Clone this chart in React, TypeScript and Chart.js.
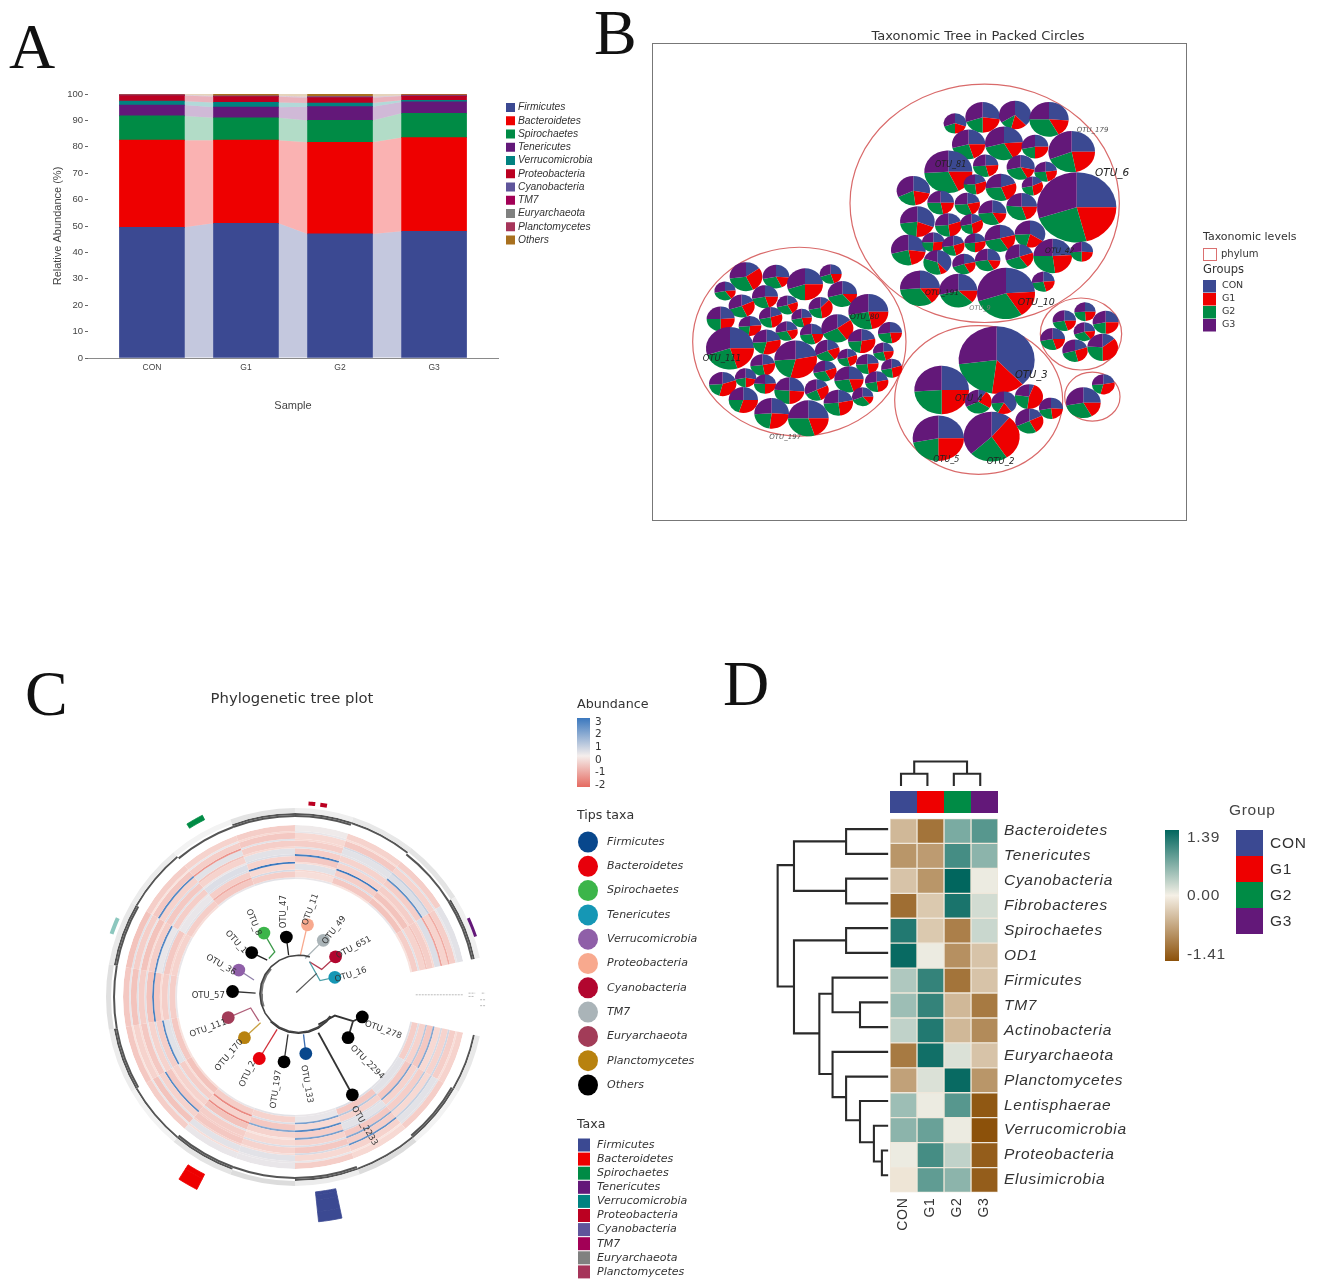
import { useEffect, useRef } from "react";
import { Chart, registerables } from "chart.js";
Chart.register(...registerables);

const W = 1325;
const H = 1286;
const SANS = '"Liberation Sans", Arial, sans-serif';
const DEJA = '"DejaVu Sans", sans-serif';

// ---------- Panel A ----------
const samples = ["CON", "G1", "G2", "G3"];
const phyla = ["Firmicutes", "Bacteroidetes", "Spirochaetes", "Tenericutes", "Verrucomicrobia", "Proteobacteria", "Cyanobacteria", "TM7", "Euryarchaeota", "Planctomycetes", "Others"];
const phylaColors = ["#3B4992", "#EE0000", "#008B45", "#631879", "#008280", "#BB0021", "#5F559B", "#A20056", "#808180", "#A6355A", "#A8701E"];
const firmicutes = [49.5, 51, 47, 48];
const bacteroidetes = [33, 31.5, 34.7, 35.5];
const spirochaetes = [9.2, 8.5, 8.3, 9.2];
const tenericutes = [4.1, 4, 5.2, 4.3];
const verrucomicrobia = [1.5, 1.8, 1.4, 0.6];
const proteobacteria = [2.1, 2.2, 2, 1.6];
const cyanobacteria = [0.1, 0.1, 0.2, 0.1];
const tm7 = [0.05, 0.05, 0.05, 0.05];
const euryarchaeota = [0.05, 0.1, 0.1, 0.1];
const planctomycetes = [0.1, 0.1, 0.1, 0.1];
const others = [0.3, 0.65, 0.95, 0.45];
const stackA = [firmicutes, bacteroidetes, spirochaetes, tenericutes, verrucomicrobia, proteobacteria, cyanobacteria, tm7, euryarchaeota, planctomycetes, others];
const abundanceTicks = [0, 10, 20, 30, 40, 50, 60, 70, 80, 90, 100];

// ---------- Panel B ----------
const groupNames = ["CON", "G1", "G2", "G3"];
const groupColors = ["#3B4992", "#EE0000", "#008B45", "#631879"];
const phylumRings = [
  [914, 370, 404], [358, 785, 320], [896, 960, 252], [1203, 762, 122], [1237, 950, 83],
];
const packedPies = [
  [825, 130, 32, 0.3, 0.2, 0.2, 0.3], [908, 112, 50, 0.27, 0.23, 0.2, 0.3], [1005, 105, 46, 0.38, 0.16, 0.12, 0.34], [1107, 118, 57, 0.26, 0.16, 0.33, 0.25],
  [866, 193, 48, 0.25, 0.2, 0.26, 0.29], [972, 190, 55, 0.24, 0.18, 0.29, 0.29], [1065, 200, 38, 0.25, 0.25, 0.22, 0.28], [1175, 215, 68, 0.25, 0.22, 0.22, 0.31],
  [805, 275, 70, 0.25, 0.18, 0.31, 0.26], [917, 257, 36, 0.24, 0.22, 0.28, 0.26], [1022, 262, 40, 0.28, 0.14, 0.3, 0.28], [1097, 275, 32, 0.23, 0.24, 0.27, 0.26],
  [700, 332, 48, 0.28, 0.2, 0.2, 0.32], [885, 313, 32, 0.2, 0.28, 0.27, 0.25], [963, 322, 44, 0.2, 0.24, 0.3, 0.26], [1057, 318, 30, 0.18, 0.3, 0.24, 0.28],
  [1190, 382, 117, 0.25, 0.21, 0.24, 0.3], [782, 368, 38, 0.25, 0.22, 0.28, 0.25], [862, 372, 36, 0.22, 0.22, 0.3, 0.26], [1025, 380, 44, 0.25, 0.2, 0.31, 0.24],
  [937, 398, 40, 0.26, 0.16, 0.32, 0.26], [712, 425, 50, 0.31, 0.2, 0.22, 0.27], [805, 435, 38, 0.2, 0.28, 0.26, 0.26], [875, 432, 32, 0.18, 0.3, 0.24, 0.28],
  [1050, 462, 44, 0.34, 0.2, 0.2, 0.26], [960, 475, 44, 0.21, 0.2, 0.31, 0.28], [685, 510, 50, 0.27, 0.2, 0.24, 0.29], [760, 487, 32, 0.24, 0.27, 0.24, 0.25],
  [820, 497, 32, 0.2, 0.26, 0.27, 0.27], [885, 488, 30, 0.22, 0.28, 0.24, 0.26], [772, 547, 40, 0.38, 0.08, 0.34, 0.2], [852, 552, 33, 0.22, 0.2, 0.28, 0.3],
  [923, 540, 36, 0.26, 0.16, 0.31, 0.27], [1018, 530, 40, 0.2, 0.2, 0.3, 0.3], [1118, 528, 56, 0.24, 0.24, 0.27, 0.25], [1205, 515, 32, 0.26, 0.24, 0.24, 0.26],
  [1090, 605, 32, 0.24, 0.22, 0.27, 0.27], [720, 625, 58, 0.25, 0.15, 0.34, 0.26], [835, 632, 55, 0.25, 0.12, 0.34, 0.29], [978, 640, 85, 0.24, 0.17, 0.29, 0.3],
  [198, 590, 47, 0.15, 0.28, 0.3, 0.27], [288, 590, 38, 0.26, 0.17, 0.29, 0.28], [375, 613, 52, 0.25, 0.25, 0.2, 0.3], [452, 582, 31, 0.25, 0.2, 0.25, 0.3],
  [135, 633, 30, 0.24, 0.16, 0.32, 0.28], [487, 642, 42, 0.25, 0.14, 0.32, 0.29], [255, 650, 37, 0.25, 0.2, 0.27, 0.28], [185, 678, 37, 0.18, 0.25, 0.27, 0.3],
  [322, 675, 30, 0.2, 0.22, 0.29, 0.29], [422, 683, 34, 0.12, 0.36, 0.24, 0.28], [565, 695, 58, 0.25, 0.22, 0.25, 0.28], [122, 717, 40, 0.24, 0.26, 0.25, 0.25],
  [272, 712, 33, 0.2, 0.28, 0.24, 0.28], [365, 714, 29, 0.24, 0.22, 0.26, 0.28], [210, 738, 32, 0.24, 0.28, 0.22, 0.26], [320, 753, 31, 0.22, 0.2, 0.3, 0.28],
  [395, 762, 33, 0.25, 0.2, 0.28, 0.27], [472, 745, 46, 0.15, 0.25, 0.28, 0.32], [630, 758, 34, 0.25, 0.22, 0.26, 0.27], [150, 805, 70, 0.25, 0.2, 0.25, 0.3],
  [260, 786, 40, 0.22, 0.32, 0.2, 0.26], [545, 783, 39, 0.22, 0.3, 0.22, 0.26], [610, 815, 29, 0.24, 0.22, 0.26, 0.28], [442, 812, 35, 0.2, 0.2, 0.28, 0.32],
  [347, 838, 62, 0.22, 0.32, 0.2, 0.26], [502, 833, 28, 0.2, 0.26, 0.26, 0.28], [248, 855, 35, 0.22, 0.25, 0.26, 0.27], [562, 852, 32, 0.24, 0.24, 0.26, 0.26],
  [635, 865, 30, 0.2, 0.28, 0.24, 0.28], [435, 873, 33, 0.2, 0.22, 0.3, 0.28], [197, 893, 30, 0.28, 0.22, 0.22, 0.28], [128, 912, 39, 0.2, 0.34, 0.2, 0.26],
  [255, 912, 31, 0.24, 0.26, 0.26, 0.24], [507, 898, 42, 0.25, 0.2, 0.28, 0.27], [590, 905, 33, 0.22, 0.26, 0.24, 0.28], [328, 932, 43, 0.26, 0.24, 0.26, 0.24],
  [410, 930, 34, 0.18, 0.26, 0.24, 0.32], [190, 960, 42, 0.25, 0.3, 0.2, 0.25], [275, 1000, 50, 0.26, 0.26, 0.22, 0.26], [385, 1015, 59, 0.25, 0.2, 0.3, 0.25],
  [475, 968, 42, 0.22, 0.26, 0.26, 0.26], [548, 950, 30, 0.25, 0.14, 0.3, 0.31],
  [950, 840, 112, 0.38, 0.14, 0.21, 0.27], [785, 930, 80, 0.25, 0.25, 0.24, 0.26], [775, 1075, 75, 0.25, 0.25, 0.22, 0.28], [935, 1070, 82, 0.11, 0.3, 0.22, 0.37],
  [895, 965, 38, 0.1, 0.24, 0.34, 0.32], [972, 968, 36, 0.4, 0.18, 0.16, 0.26], [1047, 950, 40, 0.06, 0.46, 0.25, 0.23], [1113, 985, 34, 0.26, 0.22, 0.24, 0.28],
  [1048, 1023, 40, 0.18, 0.24, 0.26, 0.32],
  [1153, 722, 33, 0.25, 0.2, 0.27, 0.28], [1215, 695, 30, 0.25, 0.24, 0.25, 0.26], [1277, 727, 37, 0.25, 0.25, 0.22, 0.28], [1118, 777, 35, 0.25, 0.2, 0.27, 0.28],
  [1213, 755, 30, 0.24, 0.16, 0.3, 0.3], [1185, 812, 36, 0.2, 0.26, 0.25, 0.29], [1268, 802, 44, 0.14, 0.36, 0.26, 0.24],
  [1210, 968, 50, 0.25, 0.17, 0.3, 0.28], [1270, 913, 32, 0.22, 0.32, 0.2, 0.26],
];
const packLabels: [string, number, number, number, string][] = [
  ["OTU_6", 1245, 280, 10.5, "#222"], ["OTU_179", 1190, 150, 7, "#555"], ["OTU_10", 1013, 668, 9.5, "#222"], ["OTU_3", 1005, 885, 10, "#222"],
  ["OTU_4", 825, 955, 8.5, "#222"], ["OTU_5", 760, 1140, 8, "#222"], ["OTU_2", 920, 1145, 8.5, "#222"], ["OTU_111", 68, 835, 8.5, "#222"],
  ["OTU_197", 268, 1072, 7, "#555"], ["OTU_80", 510, 712, 7.5, "#222"], ["OTU_42", 1095, 512, 7.5, "#222"], ["OTU_191", 735, 640, 7.5, "#222"],
  ["OTU_81", 765, 255, 8, "#222"], ["OTU_9", 868, 685, 6.5, "#777"],
];

// ---------- Panel C ----------
const sectorSpans = [18, 20, 20, 20, 20, 20, 20, 20, 20, 20, 20, 20, 20, 18, 20, 20, 20];
const heatRings = [
  [-0.5, -0.6, -0.4, -0.6, 0.2, 0.2, -0.6, -0.7, -0.7, -0.8, -0.6, -0.5, -0.6, 0.1, -0.5, -0.6, 0.3],
  [-0.3, 0.3, -0.2, 0.2, 0.2, -0.3, 0.2, -0.2, 0.2, 0.3, -0.2, 0.2, -0.4, 0.2, -0.3, 0.3, 0.2],
  [-0.6, 0.3, -0.5, -0.4, 0.3, 0.3, -0.8, -0.5, -0.8, -0.6, -0.7, -0.6, -0.7, -0.4, -0.7, -0.5, -0.6],
  [0.6, 0.8, 2.4, 0.5, -0.3, -0.5, 0.3, -0.3, 0.3, 0.2, 2.6, -1.6, 0.3, -0.4, 0.5, 0.8, -1.2],
  [-0.5, -0.4, -0.6, -0.7, -0.5, -0.7, -0.5, -0.7, -0.6, -0.8, -0.5, 0.3, -0.6, -0.6, 0.3, 0.4, -0.5],
  [0.5, 1, 1.8, 0.4, 0.4, -0.6, 2.6, 0.2, 0.3, -0.3, 0.4, -0.8, -0.4, 0.3, 0.3, 2.4, -1.4],
  [-0.4, -0.6, -0.7, -0.5, -0.4, -0.6, -0.7, -0.5, -0.8, -0.6, -0.7, -0.5, 0.3, -0.6, -0.5, -0.6, 0.4],
  [1.8, 0.4, 0.5, 2, -0.2, 0.3, -0.3, 0.4, 2.8, 2.6, 0.3, 0.2, 0.4, 2.8, 0.4, 0.3, -0.4],
  [-0.7, -0.5, 0.3, -0.6, -0.5, -0.8, -0.5, -0.6, -0.7, 0.2, -0.6, 0.4, -0.5, -0.7, -0.5, -0.6, -0.6],
  [1, 2, 0.4, 2.6, 1.8, -1.8, 0.3, 2.6, -0.3, 0.4, 0.2, 0.4, 3, -0.3, 3, -0.4, -0.8],
  [-0.5, -0.7, -0.5, -0.4, -0.7, -0.5, -0.6, 0.3, -0.6, -0.7, 0.2, -0.6, -0.4, 0.3, -0.6, -0.8, -0.5],
  [0.4, 0.3, 1, 2, 0.4, -1.8, -0.3, 0.3, 0.3, -0.4, 0.3, -1.2, 0.5, -0.4, 0.4, -0.3, 0.3],
  [-0.6, 0.3, -0.7, 0.2, -0.5, -0.6, -0.8, -0.7, -0.6, -0.5, -0.6, -0.7, -0.6, -0.3, -0.7, -0.8, -0.6],
  [0.3, 0.3, 0.4, 0.2, 0.3, 0.2, -0.3, -0.2, 0.2, 0.2, -0.3, 0.2, 0.3, 0.2, -0.2, 0.2, -0.2],
];
const darkRingOuter = [1, 1, 1, 1, 0, 1, 1, 1, 0, 1, 1, 0, 1, 1, 1, 0, 1];
const darkRingInner = [0, 1, 0, 1, 1, 1, 0, 1, 1, 1, 0, 1, 1, 1, 0, 1, 1];
const tipShades = [0.6, 0.3, 0.9, 0.5, 0.9, 0.7, 0.3, 0.5, 0.8, 0.6, 0.5, 0.3, 0.7, 0.4, 0.6, 0.7, 0.4];
const taxaMarks: [number, number, string, number][] = [
  [168, 6, "#3B4992", 0], [207, 5.5, "#EE0000", 1], [328, 5, "#008B45", 2], [425.5, 6, "#631879", 5], [289, 5, "#8CC7BE", 4], [364, 2, "#BB0021", 4], [367.5, 2, "#BB0021", 4],
];
const tipsTaxa = ["Firmicutes", "Bacteroidetes", "Spirochaetes", "Tenericutes", "Verrucomicrobia", "Proteobacteria", "Cyanobacteria", "TM7", "Euryarchaeota", "Planctomycetes", "Others"];
const tipsColors = ["#08478C", "#E8000B", "#3CB54A", "#1597B5", "#8F5FA8", "#F8A98E", "#B2062F", "#AAB4B8", "#A23C58", "#B8820F", "#000000"];
const taxaNames = ["Firmicutes", "Bacteroidetes", "Spirochaetes", "Tenericutes", "Verrucomicrobia", "Proteobacteria", "Cyanobacteria", "TM7", "Euryarchaeota", "Planctomycetes"];
const abundanceScale = ["3", "2", "1", "0", "-1", "-2"];
const hubAngles = [17, 8, 0, -15, -30, -45, -60, -75, -90, -105, -120, -135, -150, -165, -180, -195, -210, -225, -235];
const hubDarkAngles = [-48, -60, -75, -90, -100, -110];
const hubLowerAngles = [-135, -150, -165, -180, -195, -210, -225, -235];
const treeBranches: [string, number[][]][] = [
  ["#4C9FA8", [[618, 555], [650, 612], [695, 602]]],
  ["#B2384F", [[618, 555], [655, 578], [697, 540]]],
  ["#AAB4B8", [[605, 545], [660, 490]]],
  ["#F8A98E", [[590, 537], [612, 443]]],
  ["#222222", [[555, 535], [548, 480]]],
  ["#3C9A4A", [[495, 545], [513, 525], [480, 468]]],
  ["#222222", [[490, 550], [443, 527]]],
  ["#8F7FA8", [[450, 610], [404, 580]]],
  ["#333333", [[455, 650], [385, 645]]],
  ["#B0607A", [[465, 735], [440, 695], [372, 724]]],
  ["#C8A040", [[470, 740], [421, 785]]],
  ["#D0303A", [[520, 760], [466, 848]]],
  ["#333333", [[553, 775], [541, 858]]],
  ["#3B6CB0", [[600, 775], [607, 833]]],
  ["#333333", [[645, 770], [748, 958]]],
  ["#333333", [[645, 745], [695, 718], [750, 735], [735, 785]]],
  ["#333333", [[750, 735], [778, 722]]],
];
const gapScaleLines = [
  [[940, 655], [1085, 655]], [[1100, 650], [1120, 650]], [[1100, 660], [1115, 660]], [[1140, 650], [1150, 650]], [[1135, 670], [1150, 670]], [[1135, 688], [1150, 688]],
];
const tipLabels: [string, number, number, number][] = [
  ["OTU_16", 705, 600, -18], ["OTU_651", 710, 530, -28], ["OTU_49", 672, 490, -52], ["OTU_11", 615, 435, -70], ["OTU_47", 552, 445, -90],
  ["OTU_8", 445, 388, 68], ["OTU_1", 380, 455, 48], ["OTU_36", 320, 530, 30], ["OTU_57", 275, 648, 0], ["OTU_111", 270, 765, -20],
  ["OTU_170", 350, 870, -50], ["OTU_2", 425, 920, -65], ["OTU_197", 520, 985, -82], ["OTU_133", 610, 855, 80], ["OTU_2233", 760, 980, 60],
  ["OTU_2294", 755, 800, 45], ["OTU_278", 795, 730, 20],
];

// ---------- Panel D ----------
const heatTaxa = ["Bacteroidetes", "Tenericutes", "Cyanobacteria", "Fibrobacteres", "Spirochaetes", "OD1", "Firmicutes", "TM7", "Actinobacteria", "Euryarchaeota", "Planctomycetes", "Lentisphaerae", "Verrucomicrobia", "Proteobacteria", "Elusimicrobia"];
const zCON = [-0.5, -0.8, -0.4, -1.15, 1.2, 1.35, 0.4, 0.5, 0.3, -1.05, -0.7, 0.5, 0.6, 0.05, -0.1];
const zG1 = [-1.1, -0.75, -0.8, -0.35, -0.35, 0.05, 1.1, 1.1, 1.2, 1.3, 0.15, 0.05, 0.8, 1, 0.85];
const zG2 = [0.7, 1, 1.39, 1.25, -1, -0.85, -1.1, -0.5, -0.5, 0.15, 1.35, 0.9, 0.05, 0.3, 0.6];
const zG3 = [0.9, 0.6, 0.05, 0.2, 0.25, -0.4, -0.4, -1.05, -0.9, -0.4, -0.8, -1.35, -1.41, -1.3, -1.3];
const zGroups = [zCON, zG1, zG2, zG3];
const leftTree = [
  [[343, 213], [222, 213], [222, 288], [343, 288]], [[343, 363], [222, 363], [222, 438], [343, 438]], [[222, 250], [72, 250], [72, 400], [222, 400]],
  [[343, 513], [222, 513], [222, 588], [343, 588]], [[343, 738], [262, 738], [262, 813], [343, 813]], [[343, 663], [183, 663], [183, 768], [262, 768]],
  [[343, 1187], [325, 1187], [325, 1262], [343, 1262]], [[343, 1112], [302, 1112], [302, 1220], [325, 1220]], [[343, 1037], [262, 1037], [262, 1162], [302, 1162]],
  [[343, 963], [222, 963], [222, 1095], [262, 1095]], [[343, 888], [183, 888], [183, 1025], [222, 1025]], [[183, 712], [145, 712], [145, 955], [183, 955]],
  [[222, 550], [72, 550], [72, 832], [145, 832]], [[72, 322], [25, 322], [25, 690], [72, 690]],
];
const topTree = [
  [[380, 82], [380, 45], [456, 45], [456, 82]], [[532, 82], [532, 45], [608, 45], [608, 82]], [[418, 45], [418, 8], [570, 8], [570, 45]],
];

// ---------- helpers ----------
function txt(ctx: any, s: string, x: number, y: number, font: string, color = "#333", align = "left", rot = 0) {
  ctx.save();
  ctx.translate(x, y);
  if (rot) ctx.rotate((rot * Math.PI) / 180);
  ctx.font = font;
  ctx.fillStyle = color;
  ctx.textAlign = align;
  ctx.textBaseline = "middle";
  ctx.fillText(s, 0, 0);
  ctx.restore();
}
function hex(c: string) {
  return [parseInt(c.slice(1, 3), 16), parseInt(c.slice(3, 5), 16), parseInt(c.slice(5, 7), 16)];
}
function mix(a: string, b: string, t: number) {
  const A = hex(a), B = hex(b);
  return `rgb(${A.map((v, i) => Math.round(v + (B[i] - v) * t)).join(",")})`;
}
const abundanceColor = (v: number) => (v >= 0 ? mix("#F5EEEC", "#3B78BE", v / 3) : mix("#FAEFEA", "#E56A60", -v / 2.4));
const brbg = (z: number) => (z >= 0 ? mix("#F5F0E6", "#01665E", z / 1.39) : mix("#F5F0E6", "#8C510A", -z / 1.41));
function markRing(rows: number[]) {
  const marks = taxaMarks.filter((m) => rows.includes(m[3])).sort((a, b) => a[0] - b[0]);
  const data: number[] = [];
  const colors: string[] = [];
  let at = 102;
  marks.forEach((m) => {
    data.push(m[0] - at, m[1]);
    colors.push("rgba(0,0,0,0)", m[2]);
    at = m[0] + m[1];
  });
  data.push(438 - at);
  colors.push("rgba(0,0,0,0)");
  return { data, colors };
}
const cx = (z: number) => 100 + z / 3;
const cy = (z: number) => 780 + z / 3;
const dx = (z: number) => 770 + z / 2.85;
const dy = (z: number) => 760 + z / 3;
const hubPoint = (a: number, r: number) => ({ x: cx(585 + r * Math.sin((a * Math.PI) / 180)), y: cy(652 - r * Math.cos((a * Math.PI) / 180)) });

const base: any = { responsive: false, animation: false, devicePixelRatio: 1, plugins: { legend: { display: false }, tooltip: { enabled: false } } };

export default function App() {
  const a = useRef<HTMLCanvasElement>(null);
  const b = useRef<HTMLCanvasElement>(null);
  const c = useRef<HTMLCanvasElement>(null);
  const d = useRef<HTMLCanvasElement>(null);
  const o = useRef<HTMLCanvasElement>(null);

  useEffect(() => {
    const charts: Chart[] = [];

    // Panel A
    charts.push(
      new Chart(a.current as any, {
        type: "bar",
        data: {
          datasets: stackA.map((vals, k) => ({
            label: phyla[k],
            data: vals.map((y, i) => ({ x: i, y })),
            backgroundColor: phylaColors[k],
            barThickness: 65,
            borderWidth: 0,
          })),
        },
        options: {
          ...base,
          layout: { padding: { left: 51, right: W - 498, top: 94, bottom: H - 358 - 55 } },
          scales: {
            x: {
              type: "linear",
              stacked: true,
              offset: false,
              min: -0.68,
              max: 3.68,
              afterBuildTicks: (s: any) => { s.ticks = samples.map((_, i) => ({ value: i })); },
              afterFit: (s: any) => { s.height = 55; },
              ticks: { callback: (v: any) => samples[v], font: { size: 8.5, family: SANS }, color: "#444", padding: 5, autoSkip: false, maxRotation: 0 },
              grid: { drawOnChartArea: false, drawTicks: false, offset: false },
              border: { color: "#8a8a8a", width: 1 },
              title: { display: true, text: "Sample", font: { size: 11, family: SANS }, color: "#444", padding: { top: 0, bottom: 0 } },
            },
            y: {
              stacked: true,
              min: 0,
              max: 100,
              afterBuildTicks: (s: any) => { s.ticks = abundanceTicks.map((value) => ({ value })); },
              afterFit: (s: any) => { s.width = 37; },
              ticks: { font: { size: 9.5, family: SANS }, color: "#444", padding: 2 },
              grid: { drawOnChartArea: false, tickLength: 3, color: "#666" },
              border: { display: false },
              title: { display: true, text: "Relative Abundance (%)", font: { size: 11, family: SANS }, color: "#444", padding: 0 },
            },
          },
        } as any,
        plugins: [
          {
            id: "bandsA",
            beforeDatasetsDraw(chart: any) {
              const ctx = chart.ctx;
              chart.data.datasets.forEach((ds: any, k: number) => {
                const els = chart.getDatasetMeta(k).data;
                for (let i = 0; i < els.length - 1; i++) {
                  const p = els[i], q = els[i + 1];
                  const x0 = p.x + p.width / 2, x1 = q.x - q.width / 2;
                  ctx.save();
                  ctx.globalAlpha = 0.3;
                  ctx.fillStyle = ds.backgroundColor;
                  ctx.beginPath();
                  ctx.moveTo(x0, p.y);
                  ctx.lineTo(x1, q.y);
                  ctx.lineTo(x1, q.base);
                  ctx.lineTo(x0, p.base);
                  ctx.closePath();
                  ctx.fill();
                  ctx.restore();
                }
              });
            },
            afterDraw(chart: any) {
              const ctx = chart.ctx;
              phyla.forEach((name, i) => {
                const y = 107.5 + i * 13.25;
                ctx.fillStyle = phylaColors[i];
                ctx.fillRect(506, y - 4.5, 9, 9);
                txt(ctx, name, 518, y, `italic 10.3px ${SANS}`, "#333");
              });
            },
          },
        ],
      })
    );

    // Panel B
    charts.push(
      new Chart(b.current as any, {
        type: "bubble",
        data: {
          datasets: [
            { label: "phylum", data: phylumRings.map(([x, y, r]) => ({ x, y, r: r / 3 })), backgroundColor: "rgba(0,0,0,0)", borderWidth: 0 },
            { label: "OTU", data: packedPies.map(([x, y, r]) => ({ x, y, r: r / 3 + 0.7 })), backgroundColor: "rgba(0,0,0,0)", borderWidth: 0 },
          ],
        },
        options: {
          ...base,
          // the bubble controller reserves its largest radius at the top, so the y scale starts lower down
          layout: { padding: { left: 652, right: W - 1186, top: 136, bottom: H - 520 } },
          scales: {
            x: { display: false, min: -84, max: 1518 },
            y: { display: false, min: 168, max: 1320, reverse: true },
          },
        } as any,
        plugins: [
          {
            id: "packB",
            afterDatasetsDraw(chart: any) {
              const ctx = chart.ctx;
              const sx = chart.scales.x, sy = chart.scales.y;
              const { left, width } = chart.chartArea;
              const boxTop = sy.getPixelForValue(-111);
              const boxBottom = sy.getPixelForValue(1320);
              ctx.strokeStyle = "#777";
              ctx.lineWidth = 1;
              ctx.strokeRect(left + 0.5, boxTop + 0.5, width, boxBottom - boxTop);
              const squash = 1 / 1.13;
              chart.getDatasetMeta(0).data.forEach((el: any) => {
                ctx.beginPath();
                ctx.ellipse(el.x, el.y, el.options.radius, el.options.radius * squash, 0, 0, Math.PI * 2);
                ctx.strokeStyle = "#D96A6A";
                ctx.lineWidth = 1.2;
                ctx.stroke();
              });
              chart.getDatasetMeta(1).data.forEach((el: any, i: number) => {
                const row = packedPies[i];
                let at = -Math.PI / 2;
                for (let g = 0; g < 4; g++) {
                  const sweep = row[3 + g] * Math.PI * 2;
                  ctx.beginPath();
                  ctx.moveTo(el.x, el.y);
                  ctx.ellipse(el.x, el.y, el.options.radius, el.options.radius * squash, 0, at, at + sweep);
                  ctx.closePath();
                  ctx.fillStyle = groupColors[g];
                  ctx.fill();
                  at += sweep;
                }
              });
              packLabels.forEach(([s, x, y, size, color]) => {
                txt(ctx, s, sx.getPixelForValue(x), sy.getPixelForValue(y), `italic ${size}px ${DEJA}`, color);
              });
              ctx.lineWidth = 1;
              txt(ctx, "Taxonomic Tree in Packed Circles", 978, 37, `13px ${DEJA}`, "#333", "center");
              txt(ctx, "Taxonomic levels", 1203, 237, `11px ${DEJA}`, "#333");
              ctx.strokeStyle = "#DB7070";
              ctx.strokeRect(1203.5, 248.5, 13, 12);
              txt(ctx, "phylum", 1221, 254, `10px ${DEJA}`, "#333");
              txt(ctx, "Groups", 1203, 270, `11.5px ${DEJA}`, "#333");
              groupNames.forEach((g, i) => {
                const y = 286 + i * 13;
                ctx.fillStyle = groupColors[i];
                ctx.fillRect(1203, y - 6, 13, 12.5);
                txt(ctx, g, 1222, y, `9.5px ${DEJA}`, "#333");
              });
            },
          },
        ],
      })
    );

    // Panel C rings
    const sectorColors = (vals: number[], on: string) => vals.map((v) => (v ? on : "rgba(0,0,0,0)"));
    const m1 = markRing([0]), m2 = markRing([0, 1]), m3 = markRing([0, 1, 2]), m4 = markRing([0]), t1 = markRing([4]), t2 = markRing([5]);
    const markSet = (m: any, weight: number) => ({ data: m.data, backgroundColor: m.colors, borderColor: m.colors, borderWidth: 0.8, weight });
    const ringSet: any[] = [
      markSet(m1, 10),
      markSet(m2, 12),
      markSet(m3, 5),
      markSet(m4, 3),
      { data: t1.data, backgroundColor: t1.colors, weight: 4, borderWidth: 0 },
      { data: t2.data, backgroundColor: t2.colors, weight: 3, borderWidth: 0 },
      { data: sectorSpans, backgroundColor: tipShades.map((v) => mix("#FFFFFF", "#D8D8D8", v)), weight: 5, borderWidth: 0 },
      { data: sectorSpans, backgroundColor: sectorColors(darkRingOuter, "#555555"), weight: 2, borderWidth: 0 },
      { data: sectorSpans, backgroundColor: sectorColors(darkRingInner, "#555555"), weight: 2, borderWidth: 0 },
      { data: sectorSpans, backgroundColor: "#FFFFFF", weight: 8, borderWidth: 0 },
      ...heatRings.map((vals, i) => ({ data: sectorSpans, backgroundColor: vals.map(abundanceColor), weight: i % 2 ? 1.8 : 5.9, borderWidth: 0 })),
    ];
    charts.push(
      new Chart(c.current as any, {
        type: "doughnut",
        data: { datasets: ringSet },
        options: {
          ...base,
          rotation: 102,
          circumference: 336,
          radius: 226,
          cutout: "52.2%",
          layout: { padding: { left: 57.5, right: W - 527.5, top: 762, bottom: H - 762 - 470 } },
        } as any,
      })
    );

    // Panel D heatmap
    charts.push(
      new Chart(d.current as any, {
        type: "bar",
        data: {
          labels: heatTaxa,
          datasets: groupNames.map((g, i) => ({
            label: g,
            data: heatTaxa.map(() => 1),
            backgroundColor: zGroups[i].map(brbg),
            borderColor: "#EFE7DA",
            borderWidth: 1,
            borderSkipped: false,
            barPercentage: 1,
            categoryPercentage: 1,
          })),
        },
        options: {
          ...base,
          indexAxis: "y",
          layout: { padding: { left: 890, right: W - 998 - 200, top: 818.5, bottom: H - 1192.5 - 50 } },
          scales: {
            x: {
              type: "linear",
              stacked: true,
              min: 0,
              max: 4,
              afterBuildTicks: (s: any) => { s.ticks = groupNames.map((_, i) => ({ value: i + 0.5 })); },
              afterFit: (s: any) => { s.height = 50; },
              ticks: { callback: (v: any) => groupNames[Math.floor(v)], font: { size: 14, family: SANS }, color: "#333", minRotation: 90, maxRotation: 90, padding: 5, autoSkip: false },
              grid: { display: false, drawTicks: false },
              border: { display: false },
            },
            y: {
              position: "right",
              stacked: true,
              afterFit: (s: any) => { s.width = 200; },
              ticks: { font: { size: 15.5, style: "italic", family: SANS }, color: "#333", padding: 6, autoSkip: false },
              grid: { display: false, drawTicks: false },
              border: { display: false },
            },
          },
        } as any,
        plugins: [
          {
            id: "annotD",
            beforeDraw(chart: any) {
              chart.ctx.letterSpacing = "0.7px";
            },
            afterDraw(chart: any) {
              const ctx = chart.ctx;
              const sx = chart.scales.x;
              groupNames.forEach((_, i) => {
                const x0 = sx.getPixelForValue(i), x1 = sx.getPixelForValue(i + 1);
                ctx.fillStyle = groupColors[i];
                ctx.fillRect(x0, 791, x1 - x0, 22);
              });
              const g = ctx.createLinearGradient(0, 830, 0, 961);
              g.addColorStop(0, "#01665E");
              g.addColorStop(0.5, "#F5F0E6");
              g.addColorStop(1, "#8C510A");
              ctx.fillStyle = g;
              ctx.fillRect(1165, 830, 14, 131);
              const f = `15.5px ${SANS}`;
              txt(ctx, "1.39", 1187, 838, f, "#444");
              txt(ctx, "0.00", 1187, 896, f, "#444");
              txt(ctx, "-1.41", 1187, 955, f, "#444");
              txt(ctx, "Group", 1229, 811, f, "#444");
              groupNames.forEach((name, i) => {
                const y = 830 + i * 26;
                ctx.fillStyle = groupColors[i];
                ctx.fillRect(1236, y, 27, 26);
                txt(ctx, name, 1270, y + 13.5, f, "#333");
              });
            },
          },
        ],
      })
    );

    // Overlay: tree tips, dendrograms, panel letters, legends of panel C
    const lineSets: any[] = [];
    lineSets.push({ data: hubAngles.map((an) => hubPoint(an, 117)), borderColor: "#444", borderWidth: 1.6, pointRadius: 0, showLine: true });
    lineSets.push({ data: hubDarkAngles.map((an) => hubPoint(an, 113)), borderColor: "#777", borderWidth: 2.4, pointRadius: 0, showLine: true });
    lineSets.push({ data: hubLowerAngles.map((an) => hubPoint(an, 120)), borderColor: "#333", borderWidth: 1.4, pointRadius: 0, showLine: true });
    lineSets.push({ data: [{ x: cx(578), y: cy(648) }, { x: cx(640), y: cy(590) }], borderColor: "#555", borderWidth: 1.2, pointRadius: 0, showLine: true });
    gapScaleLines.forEach((pts) => lineSets.push({ data: pts.map(([x, y]) => ({ x: cx(x), y: cy(y) })), borderColor: "#bbb", borderWidth: 1, borderDash: [2, 1], pointRadius: 0, showLine: true }));
    treeBranches.forEach(([color, pts], bi) => {
      const tip = tipsColors[[3, 6, 7, 5, 10, 2, 10, 4, 10, 8, 9, 1, 10, 0, 10, 10, 10][bi]];
      lineSets.push({
        data: pts.map(([x, y]) => ({ x: cx(x), y: cy(y) })),
        borderColor: color,
        borderWidth: bi >= 14 ? 1.8 : 1.3,
        showLine: true,
        pointRadius: pts.map((_, i) => (i === pts.length - 1 ? 6.4 : 0)),
        pointBackgroundColor: tip,
        pointBorderWidth: 0,
      });
    });
    leftTree.forEach((pts) => lineSets.push({ data: pts.map(([x, y]) => ({ x: dx(x), y: dy(y) })), borderColor: "#2a2a2a", borderWidth: 2.1, pointRadius: 0, showLine: true }));
    topTree.forEach((pts) => lineSets.push({ data: pts.map(([x, y]) => ({ x: dx(x), y: dy(y) })), borderColor: "#2a2a2a", borderWidth: 2.1, pointRadius: 0, showLine: true }));

    charts.push(
      new Chart(o.current as any, {
        type: "scatter",
        data: { datasets: lineSets.map((s) => ({ ...s, clip: false, tension: 0 })) },
        options: {
          ...base,
          scales: {
            x: { display: false, min: 0, max: W },
            y: { display: false, min: 0, max: H, reverse: true },
          },
        } as any,
        plugins: [
          {
            id: "textOverlay",
            afterDraw(chart: any) {
              const ctx = chart.ctx;
              const serif = `64px "Liberation Serif", serif`;
              [["A", 9, 68], ["B", 594, 54], ["C", 25, 715], ["D", 723, 705]].forEach(([s, x, y]: any) => {
                ctx.font = serif;
                ctx.fillStyle = "#111";
                ctx.textAlign = "left";
                ctx.textBaseline = "alphabetic";
                ctx.fillText(s, x, y);
              });
              txt(ctx, "Phylogenetic tree plot", 292, 699, `14.8px ${DEJA}`, "#333", "center");
              tipLabels.forEach(([s, x, y, rot]) => txt(ctx, s, cx(x), cy(y), `8.5px ${DEJA}`, "#333", "left", rot));
              // Abundance legend
              txt(ctx, "Abundance", 577, 705, `12.7px ${DEJA}`, "#333");
              const g = ctx.createLinearGradient(0, 718, 0, 787);
              g.addColorStop(0, "#3B78BE");
              g.addColorStop(0.55, "#F5EEEC");
              g.addColorStop(1, "#E56A60");
              ctx.fillStyle = g;
              ctx.fillRect(577, 718, 13, 69);
              abundanceScale.forEach((s, i) => txt(ctx, s, 595, 722 + i * 12.6, `10.5px ${DEJA}`, "#333"));
              // Tips taxa legend
              txt(ctx, "Tips taxa", 577, 816, `12.6px ${DEJA}`, "#333");
              tipsTaxa.forEach((s, i) => {
                const y = 842 + i * 24.3;
                ctx.beginPath();
                ctx.ellipse(588, y, 10, 10.5, 0, 0, Math.PI * 2);
                ctx.fillStyle = tipsColors[i];
                ctx.fill();
                txt(ctx, s, 607, y, `italic 11px ${DEJA}`, "#333");
              });
              // Taxa legend
              txt(ctx, "Taxa", 577, 1125, `12.6px ${DEJA}`, "#333");
              taxaNames.forEach((s, i) => {
                const y = 1145 + i * 14.1;
                ctx.fillStyle = phylaColors[i];
                ctx.fillRect(578, y - 6.5, 12, 13);
                txt(ctx, s, 597, y, `italic 11px ${DEJA}`, "#333");
              });
            },
          },
        ],
      })
    );

    return () => charts.forEach((ch) => ch.destroy());
  }, []);

  const st: any = { position: "absolute", left: 0, top: 0 };
  return (
    <div style={{ position: "absolute", left: 0, top: 0, width: W, height: H, background: "#fff", overflow: "hidden", filter: "blur(0.5px)" }}>
      <canvas ref={a} width={W} height={H} style={st} />
      <canvas ref={b} width={W} height={H} style={st} />
      <canvas ref={c} width={W} height={H} style={st} />
      <canvas ref={d} width={W} height={H} style={st} />
      <canvas ref={o} width={W} height={H} style={st} />
    </div>
  );
}
